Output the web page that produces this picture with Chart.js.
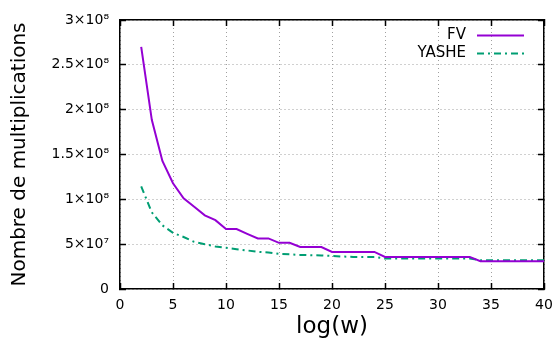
<!DOCTYPE html>
<html>
<head>
<meta charset="utf-8">
<script src="https://cdn.jsdelivr.net/npm/chart.js@4/dist/chart.umd.min.js"></script>
<style>
  html, body { margin: 0; padding: 0; background: #fff; }
  #wrap { width: 557px; height: 345px; }
</style>
</head>
<body>
<div id="wrap"><canvas id="lineChart" width="557" height="345"></canvas></div>
<script>
// log(w) values on the x axis
var logW = [2, 3, 4, 5, 6, 7, 8, 9, 10, 11, 12, 13, 14, 15, 16, 17, 18, 19, 20,
  21, 22, 23, 24, 25, 26, 27, 28, 29, 30, 31, 32, 33, 34, 35, 36, 37, 38, 39, 40]

var fvMults = [2.70e8, 1.887e8, 1.428e8, 1.179e8, 1.011e8, 0.917e8, 0.821e8, 0.768e8, 0.668e8, 0.668e8,
  0.615e8, 0.564e8, 0.564e8, 0.515e8, 0.515e8, 0.468e8, 0.468e8, 0.468e8, 0.414e8,
  0.414e8, 0.414e8, 0.414e8, 0.414e8, 0.358e8, 0.358e8, 0.358e8, 0.358e8, 0.358e8, 0.358e8,
  0.358e8, 0.358e8, 0.358e8, 0.310e8, 0.310e8, 0.310e8, 0.310e8, 0.310e8, 0.310e8, 0.310e8]

var yasheMults = [1.145e8, 0.855e8, 0.71e8, 0.626e8, 0.58e8, 0.526e8, 0.50e8, 0.474e8, 0.459e8, 0.444e8,
  0.43e8, 0.414e8, 0.407e8, 0.392e8, 0.387e8, 0.38e8, 0.377e8, 0.374e8, 0.369e8,
  0.362e8, 0.358e8, 0.358e8, 0.358e8, 0.340e8, 0.340e8, 0.340e8, 0.340e8, 0.340e8, 0.340e8,
  0.340e8, 0.340e8, 0.340e8, 0.321e8, 0.321e8, 0.321e8, 0.321e8, 0.321e8, 0.321e8, 0.321e8]

var xTicks = [0, 5, 10, 15, 20, 25, 30, 35, 40]
var yTicks = [0, 5e7, 1e8, 1.5e8, 2e8, 2.5e8, 3e8]

var supDigits = { '0': '⁰', '1': '¹', '2': '²', '3': '³', '4': '⁴', '5': '⁵', '6': '⁶', '7': '⁷', '8': '⁸', '9': '⁹' }

function sciLabel(v) {
  if (v === 0) return '0'
  var exp = Math.floor(Math.log10(v) + 1e-9)
  var mant = Math.round(v / Math.pow(10, exp) * 100) / 100
  var sup = String(exp).split('').map(function (d) { return supDigits[d] }).join('')
  return mant + '×10' + sup
}

function toPoints(ys) {
  return logW.map(function (x, i) { return { x: x, y: ys[i] } })
}

var fontFamily = 'DejaVu Sans'

// legend in gnuplot style: right-aligned label, then line sample
var legendPlugin = {
  id: 'gnuLegend',
  afterDraw: function (chart) {
    var ctx = chart.ctx
    ctx.save()
    ctx.font = '15px ' + fontFamily
    ctx.textAlign = 'right'
    ctx.textBaseline = 'middle'
    chart.data.datasets.forEach(function (ds, i) {
      var y = 35.5 + i * 18
      ctx.fillStyle = '#000'
      ctx.fillText(ds.label, 466, y)
      ctx.strokeStyle = ds.borderColor
      ctx.lineWidth = ds.borderWidth
      ctx.setLineDash(ds.borderDash || [])
      ctx.beginPath()
      ctx.moveTo(477, y)
      ctx.lineTo(524, y)
      ctx.stroke()
    })
    ctx.restore()
  }
}

// shared look for the four sides of the frame
function sideGrid(onArea) {
  return {
    color: '#a0a0a0',
    lineWidth: 1,
    drawOnChartArea: onArea,
    drawTicks: true,
    tickLength: -6,
    tickColor: '#000',
    tickWidth: 1.5,
    tickBorderDash: [],
  }
}
var frameBorder = { display: true, color: '#000', width: 1.5, dash: [1, 3] }

var lineCanvas = document.getElementById('lineChart').getContext('2d')

var lineChart = new Chart(lineCanvas, {
  type: 'line',
  data: {
    datasets: [
      {
        label: 'FV',
        data: toPoints(fvMults),
        borderColor: '#9400d3',
        borderWidth: 2,
        pointRadius: 0,
        fill: false,
        tension: 0,
      },
      {
        label: 'YASHE',
        data: toPoints(yasheMults),
        borderColor: '#009e73',
        borderWidth: 2,
        borderDash: [7, 4, 2, 4],
        pointRadius: 0,
        fill: false,
        tension: 0,
      },
    ],
  },
  options: {
    responsive: false,
    animation: false,
    layout: { padding: { top: 20, right: 13, left: 0, bottom: 0 } },
    plugins: {
      legend: { display: false },
      tooltip: { enabled: false },
    },
    scales: {
      x: {
        type: 'linear',
        position: 'bottom',
        min: 0,
        max: 40,
        afterBuildTicks: function (s) { s.ticks = xTicks.map(function (v) { return { value: v } }) },
        afterFit: function (s) {
          s.height = 56
          s.paddingLeft = 0
          s.paddingRight = 0
        },
        grid: sideGrid(true),
        border: frameBorder,
        ticks: {
          color: '#000',
          padding: 14,
          maxRotation: 0,
          font: { family: fontFamily, size: 14 },
        },
        title: {
          display: true,
          text: 'log(w)',
          color: '#000',
          padding: { top: 0, bottom: 4 },
          font: { family: fontFamily, size: 23 },
        },
      },
      x2: {
        type: 'linear',
        position: 'top',
        min: 0,
        max: 40,
        afterBuildTicks: function (s) { s.ticks = xTicks.map(function (v) { return { value: v } }) },
        afterFit: function (s) {
          s.height = 0
          s.paddingLeft = 0
          s.paddingRight = 0
        },
        grid: sideGrid(false),
        border: frameBorder,
        ticks: { display: false },
      },
      y: {
        type: 'linear',
        position: 'left',
        min: 0,
        max: 3e8,
        afterBuildTicks: function (s) { s.ticks = yTicks.map(function (v) { return { value: v } }) },
        afterFit: function (s) {
          s.width = 120
          s.paddingTop = 0
          s.paddingBottom = 0
        },
        grid: sideGrid(true),
        border: frameBorder,
        ticks: {
          color: '#000',
          padding: 17,
          crossAlign: 'near',
          font: { family: fontFamily, size: 14 },
          callback: function (v) { return sciLabel(v) },
        },
        title: {
          display: true,
          text: 'Nombre de multiplications',
          color: '#000',
          padding: { top: 8, bottom: 0 },
          font: { family: fontFamily, size: 20 },
        },
      },
      y2: {
        type: 'linear',
        position: 'right',
        min: 0,
        max: 3e8,
        afterBuildTicks: function (s) { s.ticks = yTicks.map(function (v) { return { value: v } }) },
        afterFit: function (s) {
          s.width = 0
          s.paddingTop = 0
          s.paddingBottom = 0
        },
        grid: sideGrid(false),
        border: frameBorder,
        ticks: { display: false },
      },
    },
  },
  plugins: [legendPlugin],
})
</script>
</body>
</html>
